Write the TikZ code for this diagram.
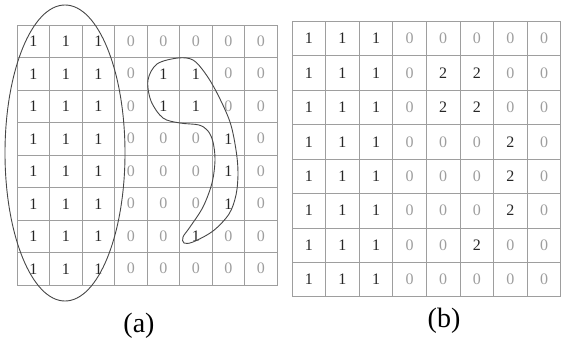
\documentclass[tikz,border=0pt]{standalone}
\usepackage{fontspec}
\setmainfont{Liberation Serif}
\begin{document}
\begin{tikzpicture}[x=1pt,y=-1pt,
  cellA/.style={draw=black!38, line width=0.8pt, minimum width=32.5pt, minimum height=32.5pt, inner sep=0pt, font=\fontsize{16}{16}\selectfont, text=black!85},
  cellB/.style={draw=black!38, line width=0.8pt, minimum width=33.6pt, minimum height=34.4pt, inner sep=0pt, font=\fontsize{16}{16}\selectfont, text=black!85},
  curve/.style={draw=black!72, line width=0.9pt},
  lbl/.style={font=\fontsize{28}{28}\selectfont, text=black, inner sep=0pt}]
\useasboundingbox (0,0) rectangle (562,342);
% grid (a)
\foreach \row [count=\r] in {{1,1,1,0,0,0,0,0},{1,1,1,0,1,1,0,0},{1,1,1,0,1,1,0,0},{1,1,1,0,0,0,1,0},{1,1,1,0,0,0,1,0},{1,1,1,0,0,0,1,0},{1,1,1,0,0,1,0,0},{1,1,1,0,0,0,0,0}}{
  \foreach \v [count=\c] in \row {
    \node[cellA] (a-\r-\c) at ({17+32.5*(\c-0.5)},{25+32.5*(\r-0.5)}) {\ifnum\v=0 \color{black!38}\fi\raisebox{-1.5pt}{\v}};
  }
}
% grid (b)
\foreach \row [count=\r] in {{1,1,1,0,0,0,0,0},{1,1,1,0,2,2,0,0},{1,1,1,0,2,2,0,0},{1,1,1,0,0,0,2,0},{1,1,1,0,0,0,2,0},{1,1,1,0,0,0,2,0},{1,1,1,0,0,2,0,0},{1,1,1,0,0,0,0,0}}{
  \foreach \v [count=\c] in \row {
    \node[cellB] (b-\r-\c) at ({292+33.6*(\c-0.5)},{21.5+34.4*(\r-0.5)}) {\ifnum\v=0 \color{black!38}\fi\raisebox{-1.5pt}{\v}};
  }
}
% ellipse round the 1s
\draw[curve] (65,153) ellipse [x radius=60pt, y radius=148pt];
% blob round the other 1s
\draw[curve] plot[smooth cycle, tension=0.55] coordinates {
  (178,58) (193,60) (205,73) (217,93) (230,122) (236,150) (238,173) (236,195)
  (229,214) (213,231) (193,242) (184,243) (183,237) (190,227) (203,207)
  (212,183) (215,160) (213,142) (208,131) (199,125) (180,123) (163,118)
  (151,101) (148,80) (157,64)};
% labels
\node[lbl] (la) at (139,326) {(a)};
\node[lbl] (lb) at (444,321) {(b)};
\end{tikzpicture}
\end{document}
